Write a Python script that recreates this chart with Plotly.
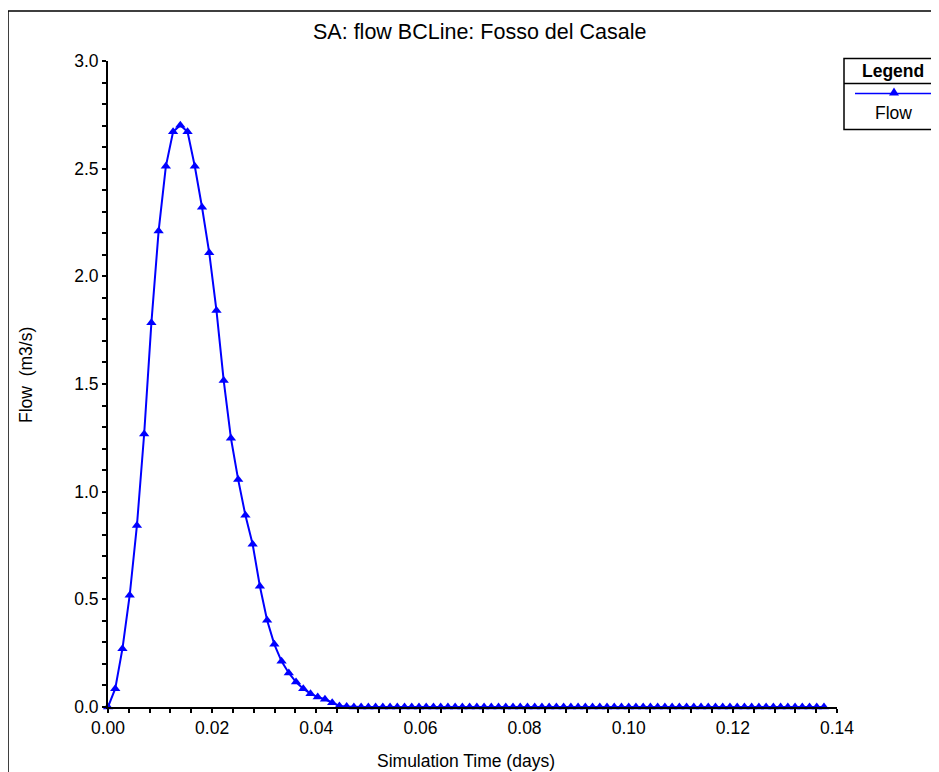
import plotly.graph_objects as go

# Simulation time in minutes (2-minute output interval), converted to days
time_minutes = [
    0, 2, 4, 6, 8, 10, 12, 14, 16, 18, 20, 22, 24, 26, 28, 30, 32, 34, 36, 38,
    40, 42, 44, 46, 48, 50, 52, 54, 56, 58, 60, 62, 64, 66, 68, 70, 72, 74, 76, 78,
    80, 82, 84, 86, 88, 90, 92, 94, 96, 98, 100, 102, 104, 106, 108, 110, 112, 114, 116, 118,
    120, 122, 124, 126, 128, 130, 132, 134, 136, 138, 140, 142, 144, 146, 148, 150, 152, 154, 156, 158,
    160, 162, 164, 166, 168, 170, 172, 174, 176, 178, 180, 182, 184, 186, 188, 190, 192, 194, 196, 198,
]
time_days = [m / 1440.0 for m in time_minutes]

flow = [
    0.000, 0.085, 0.271, 0.519, 0.843, 1.268, 1.784, 2.211, 2.511, 2.671,
    2.702, 2.671, 2.511, 2.321, 2.109, 1.841, 1.516, 1.248, 1.056, 0.890,
    0.756, 0.561, 0.403, 0.291, 0.212, 0.158, 0.116, 0.085, 0.062, 0.046,
    0.036, 0.020, 0.005, 0.002, 0.000, 0.000, 0.000, 0.000, 0.000, 0.000,
    0.000, 0.000, 0.000, 0.000, 0.000, 0.000, 0.000, 0.000, 0.000, 0.000,
    0.000, 0.000, 0.000, 0.000, 0.000, 0.000, 0.000, 0.000, 0.000, 0.000,
    0.000, 0.000, 0.000, 0.000, 0.000, 0.000, 0.000, 0.000, 0.000, 0.000,
    0.000, 0.000, 0.000, 0.000, 0.000, 0.000, 0.000, 0.000, 0.000, 0.000,
    0.000, 0.000, 0.000, 0.000, 0.000, 0.000, 0.000, 0.000, 0.000, 0.000,
    0.000, 0.000, 0.000, 0.000, 0.000, 0.000, 0.000, 0.000, 0.000, 0.000,
]

x_ticks = [0.00, 0.02, 0.04, 0.06, 0.08, 0.10, 0.12, 0.14]
x_tick_labels = ["0.00", "0.02", "0.04", "0.06", "0.08", "0.10", "0.12", "0.14"]
y_ticks = [0.0, 0.5, 1.0, 1.5, 2.0, 2.5, 3.0]
y_tick_labels = ["0.0", "0.5", "1.0", "1.5", "2.0", "2.5", "3.0"]

title_text = "SA: flow BCLine: Fosso del Casale"
x_title = "Simulation Time (days)"
y_title = "Flow  (m3/s)"
legend_title = "<b>Legend</b>"
series_name = "Flow"

# The page places the figure 8px in from the window's top-left corner.
OFF = 8
WIN_W, WIN_H = 939, 772
W, H = WIN_W - OFF, WIN_H - OFF

# plot area in window pixels
PX0, PX1 = 108, 837
PY0, PY1 = 61, 707
L, T = PX0 - OFF, PY0 - OFF
R, B = W - (PX1 - OFF), H - (PY1 - OFF)
PW, PH = PX1 - PX0, PY1 - PY0


def px_x(p):
    return (p - PX0) / PW


def px_y(p):
    return (PY1 - p) / PH


FONT = "Liberation Sans, Arial, sans-serif"
BLUE = "#0000FF"
FS = 17.5

fig = go.Figure()
fig.add_trace(go.Scatter(
    x=time_days, y=flow, mode="lines+markers", name=series_name,
    line=dict(color=BLUE, width=2),
    marker=dict(symbol="triangle-up", size=9, color=BLUE),
    cliponaxis=False, showlegend=False,
))

axis_common = dict(
    showgrid=False, zeroline=False, showline=True, linecolor="black", linewidth=2,
    ticks="outside", ticklen=4, tickwidth=1.5, tickcolor="black",
    tickfont=dict(family=FONT, size=FS, color="black"),
)

fig.update_xaxes(
    range=[0, 0.14], tickmode="array", tickvals=x_ticks, ticktext=x_tick_labels,
    minor=dict(dtick=0.004, tick0=0, ticks="outside", ticklen=4, tickwidth=1.5, tickcolor="black"),
    **axis_common,
)
fig.update_yaxes(
    range=[0, 3.0], tickmode="array", tickvals=y_ticks, ticktext=y_tick_labels,
    minor=dict(dtick=0.1, tick0=0, ticks="outside", ticklen=4, tickwidth=1.5, tickcolor="black"),
    **axis_common,
)

annotations = [
    dict(text=title_text, x=px_x(479), y=px_y(32), xref="paper", yref="paper",
         xanchor="center", yanchor="middle", showarrow=False,
         font=dict(family=FONT, size=21.5, color="black")),
    dict(text=x_title, x=px_x(466), y=px_y(761), xref="paper", yref="paper",
         xanchor="center", yanchor="middle", showarrow=False,
         font=dict(family=FONT, size=FS, color="black")),
    dict(text=y_title, x=px_x(26), y=px_y(375), xref="paper", yref="paper",
         xanchor="center", yanchor="middle", showarrow=False, textangle=-90,
         font=dict(family=FONT, size=FS, color="black")),
    dict(text=legend_title, x=px_x(893), y=px_y(71), xref="paper", yref="paper",
         xanchor="center", yanchor="middle", showarrow=False,
         font=dict(family=FONT, size=FS, color="black")),
    dict(text=series_name, x=px_x(893), y=px_y(113), xref="paper", yref="paper",
         xanchor="center", yanchor="middle", showarrow=False,
         font=dict(family=FONT, size=FS, color="black")),
]

shapes = [
    # outer frame
    dict(type="rect", xref="paper", yref="paper",
         x0=px_x(8), x1=px_x(1000), y0=px_y(11), y1=px_y(830),
         line=dict(color="black", width=1.5), fillcolor="rgba(0,0,0,0)"),
    # legend box
    dict(type="rect", xref="paper", yref="paper",
         x0=px_x(844), x1=px_x(1000), y0=px_y(58.5), y1=px_y(129.5),
         line=dict(color="black", width=1.5), fillcolor="white"),
    dict(type="line", xref="paper", yref="paper",
         x0=px_x(844), x1=px_x(1000), y0=px_y(83.5), y1=px_y(83.5),
         line=dict(color="black", width=1.5)),
    # legend sample line
    dict(type="line", xref="paper", yref="paper",
         x0=px_x(855), x1=px_x(935), y0=px_y(93.5), y1=px_y(93.5),
         line=dict(color=BLUE, width=1.5)),
    # legend sample marker
    dict(type="path", xref="paper", yref="paper", xsizemode="pixel", ysizemode="pixel",
         xanchor=px_x(894), yanchor=px_y(93.5),
         path="M-5,-2 L5,-2 L0,6 Z", fillcolor=BLUE, line=dict(color=BLUE, width=0)),
]

fig.update_layout(
    width=W, height=H, autosize=False,
    margin=dict(l=L, r=R, t=T, b=B, pad=0),
    paper_bgcolor="white", plot_bgcolor="white",
    font=dict(family=FONT, color="black"),
    annotations=annotations, shapes=shapes, showlegend=False,
)

fig.write_html("out.html")
